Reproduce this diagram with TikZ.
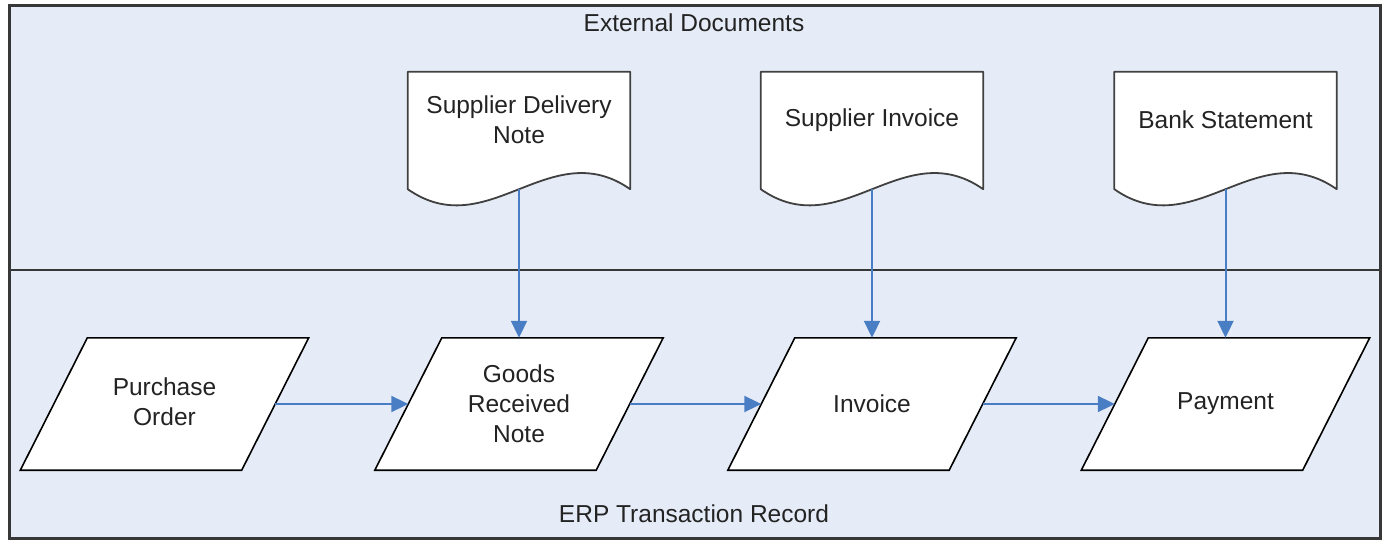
\documentclass[tikz,border=0pt]{standalone}
\usepackage{fontspec}
\setmainfont{Liberation Sans}
\usetikzlibrary{arrows.meta,calc}

\definecolor{lanefill}{RGB}{230,236,247}
\definecolor{frameline}{RGB}{55,55,55}
\definecolor{flowblue}{RGB}{74,126,196}
\definecolor{ink}{RGB}{35,35,35}

\tikzset{
  frame/.style={draw=frameline, line width=3pt, fill=lanefill},
  divider/.style={draw=frameline, line width=2.5pt},
  lanetitle/.style={text=ink, inner sep=0pt},
  % box whose side midpoints sit on the slanted edges of the parallelogram
  paraframe/.style={minimum width=221pt, minimum height=132pt, inner sep=0pt, draw=none},
  paraline/.style={draw=black, line width=1.6pt, fill=white, line join=miter},
  docframe/.style={minimum width=222pt, minimum height=117pt, inner sep=0pt, draw=none},
  docline/.style={draw=black!75, line width=1.8pt, fill=white, line join=round},
  boxtext/.style={align=center, text=ink, inner sep=0pt},
  flow/.style={draw=flowblue, line width=2pt, -{Triangle[length=17pt,width=16pt]}},
}

% document symbol: straight top and sides, wavy bottom edge
\newcommand{\docoutline}[1]{%
  \draw[docline] (#1.south west) -- (#1.north west) -- (#1.north east) -- (#1.south east)
    .. controls +(-80,-56) and +(80,56) .. (#1.south west) -- cycle;}

% data symbol: parallelogram leaning to the right
\newcommand{\paraoutline}[1]{%
  \draw[paraline] ([xshift=33.5pt]#1.north west) -- ([xshift=33.5pt]#1.north east)
    -- ([xshift=-33.5pt]#1.south east) -- ([xshift=-33.5pt]#1.south west) -- cycle;}

\begin{document}
\begin{tikzpicture}[x=1pt, y=-1pt, font=\fontsize{24.5}{30}\selectfont]
  \useasboundingbox (0,0) rectangle (1392,546);

  % swimlane frame and divider
  \draw[frame] (9.5,5.5) rectangle (1380.5,538);
  \draw[divider] (10,270) -- (1380,270);
  \node[lanetitle] (ext) at (694,23) {External Documents};
  \node[lanetitle] (erp) at (694,514) {ERP Transaction Record};

  % external documents
  \node[docframe] (sdn) at (519,130.5) {};
  \docoutline{sdn}
  \node[boxtext] (sdnt) at ([yshift=10.5pt]sdn.center) {Supplier Delivery\\Note};

  \node[docframe] (sinv) at (872,130.5) {};
  \docoutline{sinv}
  \node[boxtext] (sinvt) at ([yshift=10.5pt]sinv.center) {Supplier Invoice};

  \node[docframe] (bank) at (1225.5,130.5) {};
  \docoutline{bank}
  \node[boxtext] (bankt) at ([yshift=10.5pt]bank.center) {Bank Statement};

  % transaction records
  \node[paraframe] (po) at (164.5,404) {};
  \paraoutline{po}
  \node[boxtext] (pot) at ([yshift=2pt]po.center) {Purchase\\Order};

  \node[paraframe] (grn) at (519,404) {};
  \paraoutline{grn}
  \node[boxtext] (grnt) at (grn.center) {Goods\\Received\\Note};

  \node[paraframe] (inv) at (872,404) {};
  \paraoutline{inv}
  \node[boxtext] (invt) at (inv.center) {Invoice};

  \node[paraframe] (pay) at (1225.5,404) {};
  \paraoutline{pay}
  \node[boxtext] (payt) at (pay.center) {Payment};

  % flows
  \draw[flow] (sdn.south)  -- (grn.north);
  \draw[flow] (sinv.south) -- (inv.north);
  \draw[flow] (bank.south) -- (pay.north);
  \draw[flow] (po.east)  -- (grn.west);
  \draw[flow] (grn.east) -- (inv.west);
  \draw[flow] (inv.east) -- (pay.west);
\end{tikzpicture}
\end{document}
